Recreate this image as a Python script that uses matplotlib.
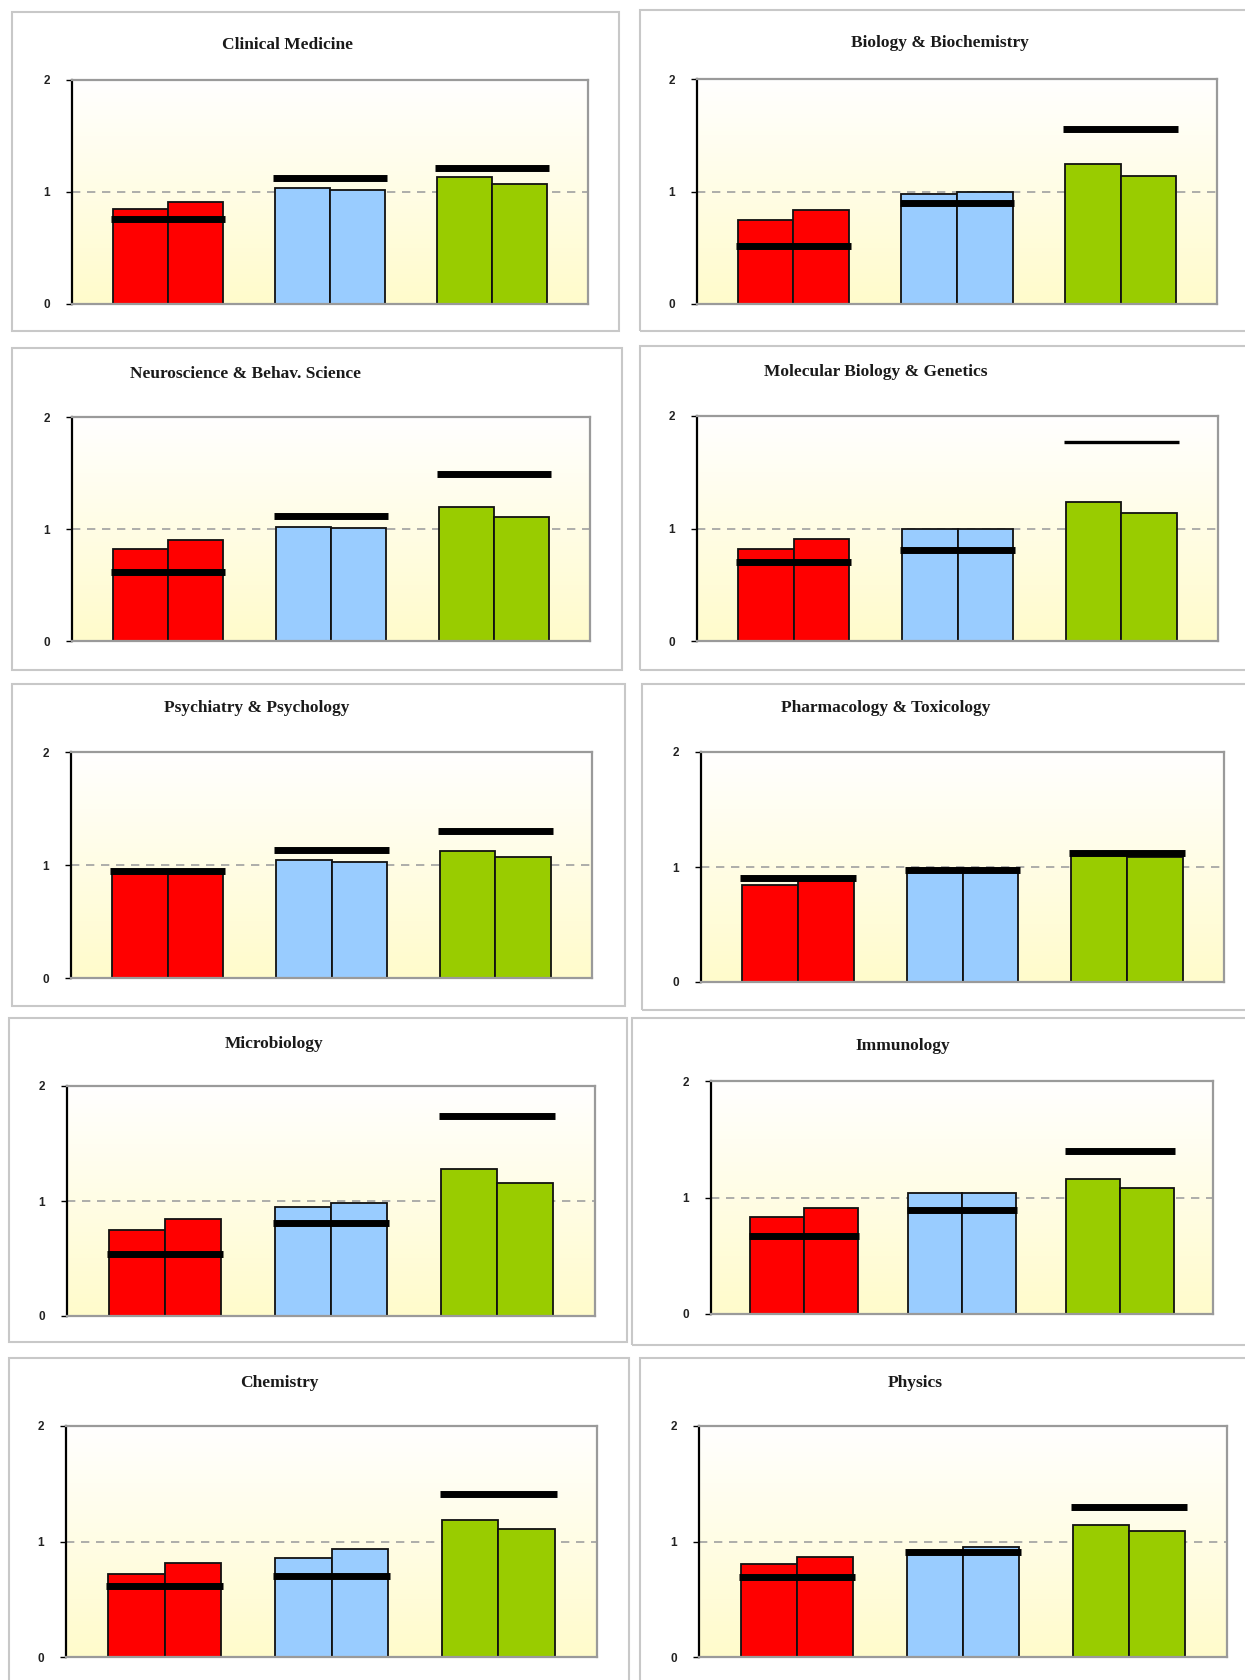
import numpy as np
import matplotlib
matplotlib.use("Agg")
import matplotlib.pyplot as plt
from matplotlib.patches import Rectangle
from matplotlib.colors import LinearSegmentedColormap

# --- data -------------------------------------------------------------
fields = ["Clinical Medicine", "Biology & Biochemistry",
          "Neuroscience & Behav. Science", "Molecular Biology & Genetics",
          "Psychiatry & Psychology", "Pharmacology & Toxicology",
          "Microbiology", "Immunology", "Chemistry", "Physics"]

# two bars per group: red, blue, green groups
red_bars = [(0.85, 0.915), (0.75, 0.84), (0.82, 0.90), (0.82, 0.91), (0.955, 0.955),
            (0.845, 0.885), (0.75, 0.84), (0.835, 0.91), (0.72, 0.81), (0.805, 0.87)]
blue_bars = [(1.035, 1.015), (0.98, 1.0), (1.015, 1.01), (0.995, 1.0), (1.045, 1.025),
             (0.96, 0.96), (0.95, 0.98), (1.04, 1.035), (0.855, 0.935), (0.91, 0.955)]
green_bars = [(1.135, 1.075), (1.245, 1.14), (1.195, 1.11), (1.235, 1.135), (1.125, 1.075),
              (1.10, 1.09), (1.275, 1.16), (1.16, 1.085), (1.185, 1.11), (1.14, 1.09)]
# black reference line per group
red_ref = [0.76, 0.52, 0.615, 0.70, 0.945, 0.905, 0.54, 0.67, 0.615, 0.695]
blue_ref = [1.125, 0.90, 1.12, 0.81, 1.13, 0.975, 0.81, 0.89, 0.705, 0.905]
green_ref = [1.21, 1.555, 1.49, 1.765, 1.305, 1.125, 1.74, 1.40, 1.415, 1.295]

yticks = [0, 1, 2]

# --- layout (pixels on a 1245 x 1680 canvas) --------------------------
W, H = 1245, 1680
boxes = [(12, 12, 619, 331), (640, 10, 1250, 331),
         (12, 348, 622, 670), (640, 346, 1250, 670),
         (12, 684, 625, 1006), (642, 684, 1250, 1010),
         (9, 1018, 627, 1342), (632, 1018, 1250, 1345),
         (9, 1358, 629, 1690), (640, 1358, 1250, 1690)]
axes_px = [(72, 80, 588, 304), (697, 79, 1217, 304),
           (72, 417, 590, 641), (697, 416, 1218, 641),
           (71, 752, 592, 978), (701, 752, 1224, 982),
           (67, 1086, 595, 1316), (711, 1081, 1213, 1314),
           (66, 1426, 597, 1657), (699, 1426, 1227, 1657)]
title_px = [(287, 45), (940, 43), (245, 374), (876, 372), (257, 708),
            (886, 708), (274, 1044), (903, 1046), (279, 1383), (915, 1383)]

colors = ["#FF0000", "#99CCFF", "#99CC00"]
bw = 0.34
grad = LinearSegmentedColormap.from_list("bg", ["#FFFFFF", "#FFFBCB"])

fig = plt.figure(figsize=(W / 100, H / 100), dpi=100)

for i, name in enumerate(fields):
    x0, y0, x1, y1 = boxes[i]
    fig.patches.append(Rectangle((x0 / W, 1 - y1 / H), (x1 - x0) / W, (y1 - y0) / H,
                                 transform=fig.transFigure, fill=False,
                                 edgecolor="#C8C8C8", lw=1.5))
    ax0, ay0, ax1, ay1 = axes_px[i]
    ax = fig.add_axes([ax0 / W, 1 - ay1 / H, (ax1 - ax0) / W, (ay1 - ay0) / H])
    ax.imshow(np.linspace(0, 1, 256).reshape(-1, 1), cmap=grad, aspect="auto",
              extent=(0, 1, 0, 1), transform=ax.transAxes, zorder=0)
    ax.axhline(1, color="#A0A0A0", lw=1.2, ls=(0, (5, 4)), zorder=1)

    groups = [red_bars[i], blue_bars[i], green_bars[i]]
    refs = [red_ref[i], blue_ref[i], green_ref[i]]
    for g, (vals, c) in enumerate(zip(groups, colors)):
        ax.bar([g - bw / 2, g + bw / 2], vals, width=bw, color=c,
               edgecolor="#111111", lw=1.3, zorder=2)
        lw = 2.4 if (name == "Molecular Biology & Genetics" and g == 2) else 5
        ax.plot([g - bw - 0.01, g + bw + 0.01], [refs[g], refs[g]],
                color="black", lw=lw, solid_capstyle="butt", zorder=3)

    ax.set_xlim(-0.59, 2.59)
    ax.set_ylim(0, 2)
    ax.set_xticks([])
    ax.set_yticks(yticks)
    ax.set_yticklabels([str(t) for t in yticks], family="Liberation Sans",
                       fontsize=8.5, fontweight="bold", color="#222222")
    ax.tick_params(axis="y", length=4, width=1, pad=12)
    ax.spines["left"].set_color("black")
    ax.spines["left"].set_linewidth(1.6)
    for s in ["top", "right", "bottom"]:
        ax.spines[s].set_color("#9A9A9A")
        ax.spines[s].set_linewidth(1.6)

    tx, ty = title_px[i]
    fig.text(tx / W, 1 - ty / H, name, ha="center", va="center",
             family="Liberation Serif", fontweight="bold", fontsize=12.5,
             color="#1a1a1a")

fig.savefig("out.png", dpi=100)
